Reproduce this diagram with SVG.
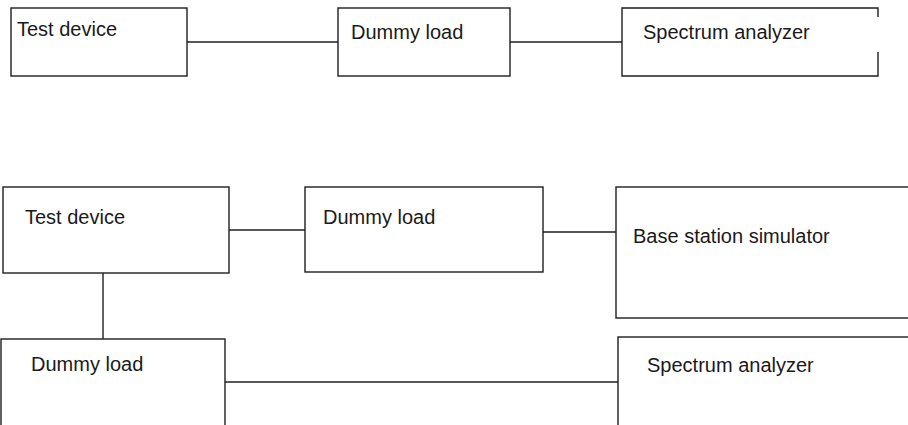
<svg xmlns="http://www.w3.org/2000/svg" width="908" height="425" viewBox="0 0 908 425">
  <style>
    .box { fill: #ffffff; stroke: #1e1e1e; stroke-width: 1.4; }
    .wire { fill: none; stroke: #1e1e1e; stroke-width: 1.4; }
    .label { font-family: "Liberation Sans", Arial, sans-serif; font-size: 20px; fill: #1a1a1a; }
  </style>
  <rect width="908" height="425" fill="#ffffff"/>

  <!-- connectors -->
  <g id="connectors">
    <line class="wire" x1="187" y1="42" x2="338" y2="42"/>
    <line class="wire" x1="510" y1="42" x2="622" y2="42"/>
    <line class="wire" x1="229" y1="230" x2="305" y2="230"/>
    <line class="wire" x1="541" y1="232" x2="616" y2="232"/>
    <line class="wire" x1="103" y1="273" x2="103" y2="339"/>
    <line class="wire" x1="223" y1="382" x2="618" y2="382"/>
  </g>

  <!-- upper setup -->
  <g id="test-device-1">
    <rect class="box" x="11" y="8" width="176" height="68"/>
    <text class="label" x="17" y="36">Test device</text>
  </g>
  <g id="dummy-load-1">
    <rect class="box" x="338" y="8" width="172" height="68"/>
    <text class="label" x="351" y="38.5">Dummy load</text>
  </g>
  <g id="spectrum-analyzer-1">
    <path class="wire" d="M878 17 V8 H622 V76 H878 V52"/>
    <text class="label" x="643" y="39">Spectrum analyzer</text>
  </g>

  <!-- lower setup -->
  <g id="test-device-2">
    <rect class="box" x="3" y="187" width="226" height="86"/>
    <text class="label" x="25" y="224">Test device</text>
  </g>
  <g id="dummy-load-2">
    <rect class="box" x="305" y="187" width="238" height="85"/>
    <text class="label" x="323" y="224">Dummy load</text>
  </g>
  <g id="base-station-simulator">
    <rect class="box" x="616" y="187" width="300" height="131"/>
    <text class="label" x="633" y="243">Base station simulator</text>
  </g>
  <g id="dummy-load-3">
    <rect class="box" x="1" y="339" width="224" height="100"/>
    <text class="label" x="31" y="371">Dummy load</text>
  </g>
  <g id="spectrum-analyzer-2">
    <rect class="box" x="618" y="337" width="300" height="100"/>
    <text class="label" x="647" y="372">Spectrum analyzer</text>
  </g>
</svg>
